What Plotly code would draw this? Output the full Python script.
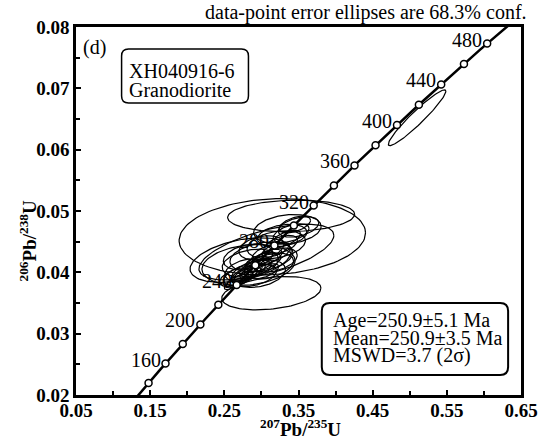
import numpy as np
import plotly.graph_objects as go

# ---------------- data ----------------
# Concordia decay constants (1/yr)
lam238 = 1.55125e-10
lam235 = 9.8485e-10
curve_ages_ma = list(range(100, 541, 2))
marker_ages_ma = list(range(140, 481, 20))
label_ages_ma = [160, 200, 240, 280, 320, 360, 400, 440, 480]

# Analyses: 207Pb/235U, 1 sigma, 206Pb/238U, 1 sigma, error correlation
ell_x207 = [0.262, 0.268, 0.275, 0.281, 0.286, 0.292, 0.297, 0.302, 0.278, 0.290,
            0.308, 0.313, 0.319, 0.326, 0.333, 0.340, 0.350, 0.300, 0.285, 0.272,
            0.320, 0.310, 0.296, 0.335, 0.300, 0.282, 0.265, 0.318, 0.305, 0.293,
            0.328, 0.345,
            0.3147, 0.3401, 0.3134, 0.2826, 0.3067, 0.2720, 0.5099]
ell_sx = [0.008, 0.010, 0.009, 0.012, 0.010, 0.014, 0.011, 0.016, 0.018, 0.020,
          0.013, 0.017, 0.012, 0.015, 0.013, 0.016, 0.018, 0.028, 0.025, 0.015,
          0.026, 0.022, 0.024, 0.030, 0.020, 0.022, 0.014, 0.020, 0.012, 0.009,
          0.022, 0.014,
          0.0829, 0.0565, 0.0441, 0.0414, 0.0600, 0.0450, 0.0256]
ell_y206 = [0.0381, 0.0386, 0.0392, 0.0397, 0.0401, 0.0406, 0.0411, 0.0417, 0.0404, 0.0395,
            0.0424, 0.0431, 0.0437, 0.0445, 0.0455, 0.0464, 0.0474, 0.0425, 0.0415, 0.0395,
            0.0445, 0.0410, 0.0398, 0.0470, 0.0440, 0.0425, 0.0392, 0.0420, 0.0402, 0.0418,
            0.0460, 0.0478,
            0.0458, 0.0492, 0.0366, 0.0412, 0.0433, 0.0420, 0.0652]
ell_sy = [0.0006, 0.0007, 0.0006, 0.0008, 0.0007, 0.0009, 0.0007, 0.0010, 0.0012, 0.0012,
          0.0009, 0.0011, 0.0008, 0.0010, 0.0009, 0.0010, 0.0011, 0.0016, 0.0015, 0.0011,
          0.0015, 0.0014, 0.0015, 0.0016, 0.0013, 0.0014, 0.0010, 0.0013, 0.0008, 0.0006,
          0.0012, 0.0009,
          0.0041, 0.0017, 0.0018, 0.0022, 0.0030, 0.0024, 0.0030]
ell_rho = [0.7, 0.6, 0.7, 0.6, 0.7, 0.5, 0.6, 0.5, 0.4, 0.4,
           0.6, 0.5, 0.6, 0.5, 0.6, 0.5, 0.4, 0.3, 0.3, 0.5,
           0.3, 0.4, 0.3, 0.2, 0.3, 0.3, 0.5, 0.4, 0.6, 0.7,
           0.3, 0.5,
           0.1, 0.1, 0.3, 0.2, 0.6, 0.4, 0.95]

x_ticks = [0.05, 0.15, 0.25, 0.35, 0.45, 0.55, 0.65]
y_ticks = [0.02, 0.03, 0.04, 0.05, 0.06, 0.07, 0.08]

title_text = "data-point error ellipses are 68.3% conf."
sample_lines = ["XH040916-6", "Granodiorite"]
result_lines = ["Age=250.9±5.1 Ma", "Mean=250.9±3.5 Ma", "MSWD=3.7 (2σ)"]

# ---------------- helpers ----------------
def conc(t_ma):
    t = np.asarray(t_ma, dtype=float) * 1e6
    return np.expm1(lam235 * t), np.expm1(lam238 * t)

W, H = 550, 441
L, R, T, B = 76, 25, 27, 46
PW, PH = W - L - R, H - T - B

def px(xp):
    return (xp - L) / PW

def py(yp):
    return (H - B - yp) / PH

FONT = "Liberation Serif"
k = np.sqrt(-2 * np.log(1 - 0.683))

# ellipses
ex, ey = [], []
th = np.linspace(0, 2 * np.pi, 120)
for cx, sx, cy, sy, r in zip(ell_x207, ell_sx, ell_y206, ell_sy, ell_rho):
    xs = cx + k * sx * np.cos(th)
    ys = cy + k * sy * (r * np.cos(th) + np.sqrt(1 - r * r) * np.sin(th))
    ex += list(xs) + [None]
    ey += list(ys) + [None]

fig = go.Figure()
fig.add_trace(go.Scatter(x=ex, y=ey, mode="lines",
                         line=dict(color="black", width=1.2), hoverinfo="skip"))

cx_, cy_ = conc(curve_ages_ma)
fig.add_trace(go.Scatter(x=cx_, y=cy_, mode="lines",
                         line=dict(color="black", width=2.5), hoverinfo="skip"))
mx, my = conc(marker_ages_ma)
fig.add_trace(go.Scatter(x=mx, y=my, mode="markers",
                         marker=dict(size=7, color="white",
                                     line=dict(color="black", width=1.5)),
                         hoverinfo="skip", cliponaxis=True))

annotations = []
lx, ly = conc(label_ages_ma)
for a, xv, yv in zip(label_ages_ma, lx, ly):
    annotations.append(dict(x=xv, y=yv, xref="x", yref="y", text=str(a),
                            showarrow=False, xanchor="right", yanchor="middle",
                            xshift=-3, yshift=4,
                            font=dict(family=FONT, size=20, color="black")))

annotations.append(dict(x=px(533), y=py(12), xref="paper", yref="paper",
                        text=title_text, showarrow=False, xanchor="right",
                        yanchor="middle",
                        font=dict(family=FONT, size=20, color="black")))
annotations.append(dict(x=px(95), y=py(48), xref="paper", yref="paper",
                        text="(d)", showarrow=False, xanchor="center", yanchor="middle",
                        font=dict(family=FONT, size=20, color="black")))
for i, s in enumerate(sample_lines):
    annotations.append(dict(x=px(127), y=py(71 + 19 * i), xref="paper", yref="paper",
                            text=s, showarrow=False, xanchor="left", yanchor="middle",
                            font=dict(family=FONT, size=20, color="black")))
for i, s in enumerate(result_lines):
    annotations.append(dict(x=px(333), y=py(320 + 17.5 * i), xref="paper", yref="paper",
                            text=s, showarrow=False, xanchor="left", yanchor="middle",
                            font=dict(family=FONT, size=20, color="black")))
annotations.append(dict(x=px(303), y=py(428), xref="paper", yref="paper",
                        text="<sup>207</sup>Pb/<sup>235</sup>U", showarrow=False,
                        xanchor="center", yanchor="middle",
                        font=dict(family=FONT, size=19, color="black", weight="bold")))
annotations.append(dict(x=px(28), y=py(241), xref="paper", yref="paper",
                        text="<sup>206</sup>Pb/<sup>238</sup>U", showarrow=False,
                        textangle=-90, xanchor="center", yanchor="middle",
                        font=dict(family=FONT, size=19, color="black", weight="bold")))

def rrect(x0, y0, x1, y1, r):
    X0, X1 = px(x0), px(x1)
    Y0, Y1 = py(y0), py(y1)
    rx, ry = r / PW, r / PH
    return (f"M {X0+rx} {Y0} L {X1-rx} {Y0} Q {X1} {Y0} {X1} {Y0-ry} "
            f"L {X1} {Y1+ry} Q {X1} {Y1} {X1-rx} {Y1} L {X0+rx} {Y1} "
            f"Q {X0} {Y1} {X0} {Y1+ry} L {X0} {Y0-ry} Q {X0} {Y0} {X0+rx} {Y0} Z")

shapes = [
    dict(type="path", xref="paper", yref="paper", path=rrect(122, 49, 250, 103, 7),
         line=dict(color="black", width=1.5)),
    dict(type="path", xref="paper", yref="paper", path=rrect(324, 303, 512, 375, 8),
         line=dict(color="black", width=2)),
]

fig.update_layout(
    width=W, height=H,
    margin=dict(l=L, r=R, t=T, b=B),
    paper_bgcolor="white", plot_bgcolor="white",
    showlegend=False,
    annotations=annotations,
    shapes=shapes,
    xaxis=dict(range=[0.05, 0.65], tickvals=x_ticks,
               ticktext=[f"{v:.2f}" for v in x_ticks],
               ticks="inside", ticklen=5, tickwidth=1.5, tickcolor="black",
               ticklabelstandoff=-4,
               minor=dict(dtick=0.05, tick0=0.05, ticks="inside", ticklen=4,
                          tickwidth=1.5, tickcolor="black", showgrid=False),
               showline=True, linewidth=2.5, linecolor="black", mirror=True,
               showgrid=False, zeroline=False,
               tickfont=dict(family=FONT, size=19, color="black", weight="bold")),
    yaxis=dict(range=[0.02, 0.08], tickvals=y_ticks,
               ticktext=[f"{v:.2f}" for v in y_ticks],
               ticks="inside", ticklen=5, tickwidth=1.5, tickcolor="black",
               minor=dict(dtick=0.005, tick0=0.02, ticks="inside", ticklen=4,
                          tickwidth=1.5, tickcolor="black", showgrid=False),
               showline=True, linewidth=2.5, linecolor="black", mirror=True,
               showgrid=False, zeroline=False,
               tickfont=dict(family=FONT, size=19, color="black", weight="bold")),
)

fig.write_html("out.html")
